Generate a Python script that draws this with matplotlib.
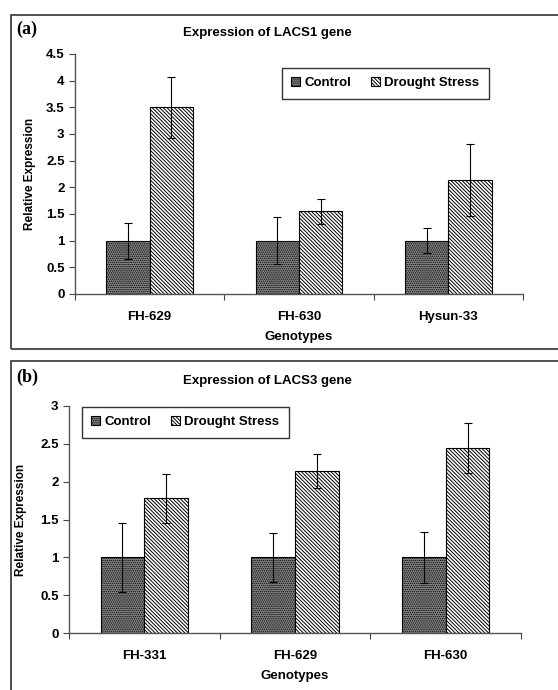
import numpy as np
import matplotlib.pyplot as plt
from matplotlib.patches import Rectangle

# data
genotypes_a = ['FH-629', 'FH-630', 'Hysun-33']
control_a = [1.0, 1.0, 1.0]
control_a_err = [0.34, 0.44, 0.23]
drought_a = [3.5, 1.55, 2.14]
drought_a_err = [0.57, 0.24, 0.67]

genotypes_b = ['FH-331', 'FH-629', 'FH-630']
control_b = [1.0, 1.0, 1.0]
control_b_err = [0.46, 0.32, 0.34]
drought_b = [1.78, 2.14, 2.45]
drought_b_err = [0.32, 0.22, 0.33]

plt.rcParams['font.family'] = ['Liberation Sans', 'DejaVu Sans']
plt.rcParams['font.weight'] = 'bold'
plt.rcParams['hatch.linewidth'] = 0.7

W, H = 558, 690
fig = plt.figure(figsize=(W / 100, H / 100), dpi=100)


def draw_panel(rect, genotypes, control, control_err, drought, drought_err,
               ymax, ystep, title, letter, title_y, letter_y, leg_xy, ylab_x):
    ax = fig.add_axes(rect)
    x = np.arange(len(genotypes))
    w = 0.29
    ax.bar(x - w / 2, control, w, color='#8a8a8a', edgecolor='black',
           hatch='........', linewidth=0.8, label='Control')
    ax.bar(x + w / 2, drought, w, color='white', edgecolor='black',
           hatch='\\' * 9, linewidth=0.8, label='Drought Stress')
    ax.errorbar(x - w / 2, control, yerr=control_err, fmt='none',
                ecolor='black', elinewidth=0.8, capsize=3, capthick=0.8)
    ax.errorbar(x + w / 2, drought, yerr=drought_err, fmt='none',
                ecolor='black', elinewidth=0.8, capsize=3, capthick=0.8)

    ax.set_xlim(-0.5, len(genotypes) - 0.5)
    ax.set_ylim(0, ymax)
    ax.set_yticks(np.arange(0, ymax + 0.01, ystep))
    ax.set_yticklabels(['%g' % v for v in np.arange(0, ymax + 0.01, ystep)])
    ax.set_xticks(np.arange(-0.5, len(genotypes), 1.0))
    ax.set_xticklabels([])
    ax.set_xticks(x, minor=True)
    ax.set_xticklabels(genotypes, minor=True, fontsize=9.5, fontweight='bold')
    ax.tick_params(axis='x', which='minor', length=0, pad=12)
    ax.tick_params(axis='both', which='major', direction='out', length=4,
                   width=0.8, color='#444444', labelsize=9.5)
    for s in ['top', 'right']:
        ax.spines[s].set_visible(False)
    for s in ['left', 'bottom']:
        ax.spines[s].set_color('#555555')
        ax.spines[s].set_linewidth(1.0)

    ax.set_xlabel('Genotypes', fontsize=9.5, fontweight='bold', labelpad=6)
    fig.text(ylab_x / W, rect[1] + rect[3] / 2, 'Relative Expression',
             rotation=90, ha='center', va='center', fontsize=8.5,
             fontweight='bold')

    fig.text(267 / W, 1 - title_y / H, title, ha='center', va='center',
             fontsize=9.5, fontweight='bold')
    fig.text(16 / W, 1 - letter_y / H, letter, ha='left', va='center',
             fontsize=13, fontweight='bold', family='Liberation Serif')

    leg = ax.legend(loc='upper left', bbox_to_anchor=(leg_xy[0] / W, 1 - leg_xy[1] / H),
                    bbox_transform=fig.transFigure, ncol=2, frameon=True,
                    fancybox=False, edgecolor='black', borderaxespad=0,
                    handlelength=0.7, handleheight=0.7, handletextpad=0.3,
                    columnspacing=1.5, borderpad=0.7,
                    prop={'size': 9.5, 'weight': 'bold'})
    leg.get_frame().set_linewidth(1.0)
    return ax


# panel (a)
draw_panel([75 / W, 1 - 294 / H, (523 - 75) / W, 240 / H],
           genotypes_a, control_a, control_a_err, drought_a, drought_a_err,
           4.5, 0.5, 'Expression of LACS1 gene', '(a)', 33, 29,
           (282, 68), 30)

# panel (b)
draw_panel([69 / W, 1 - 633 / H, (521 - 69) / W, 227 / H],
           genotypes_b, control_b, control_b_err, drought_b, drought_b_err,
           3.0, 0.5, 'Expression of LACS3 gene', '(b)', 381, 377,
           (82, 407), 21)

# panel frames
fig.patches.append(Rectangle((11 / W, 1 - 349 / H), 1.0, (349 - 15) / H,
                             transform=fig.transFigure, fill=False,
                             edgecolor='#333333', linewidth=1.2))
fig.patches.append(Rectangle((11 / W, -0.1), 1.0, 0.1 + (690 - 361) / H,
                             transform=fig.transFigure, fill=False,
                             edgecolor='#333333', linewidth=1.2))

fig.savefig('out.png', dpi=100)
